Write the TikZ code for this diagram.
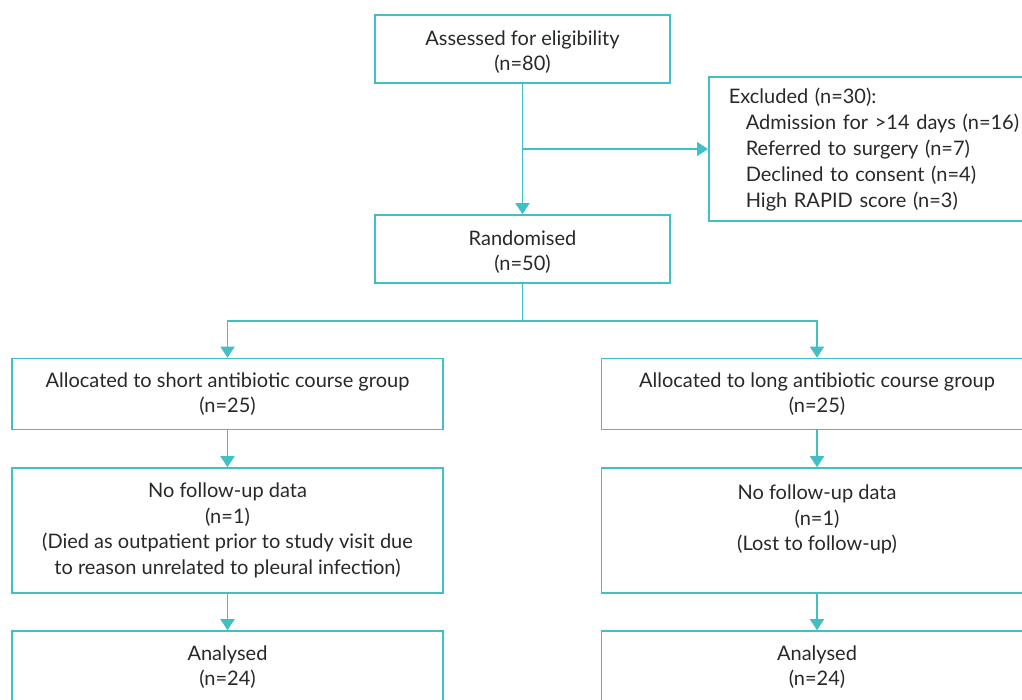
\documentclass[tikz,border=0pt]{standalone}
\usepackage{fontspec}
\setmainfont{Lato}
\usetikzlibrary{arrows.meta}
\definecolor{tealline}{RGB}{64,191,196}
\definecolor{txtcol}{RGB}{40,40,40}
\newcommand{\lowstrut}{\rule{0pt}{21pt}}
\newcommand{\tightspace}{\spaceskip=0.22em plus 0.1em minus 0.05em\relax}
\begin{document}
\begin{tikzpicture}[x=1pt,y=-1pt,
  box/.style={draw=tealline, line width=1.6pt, text=txtcol, align=center, inner sep=0pt,
    font=\fontsize{20pt}{25.5pt}\selectfont},
  conn/.style={draw=tealline, line width=1.6pt},
  arr/.style={conn, -{Triangle[width=14pt,length=11pt]}}]
\clip (0,0) rectangle (1022,699);
\node[box, minimum width=295pt, minimum height=68pt] (assess) at (522.5,49) {\lowstrut Assessed for eligibility\\(n=80)};
\node[box, minimum width=295pt, minimum height=68pt] (rand) at (522.5,249) {\lowstrut Randomised\\(n=50)};
\node[box, text width=330pt, align=left, inner xsep=20pt, minimum height=144pt, anchor=west,
  font=\fontsize{20pt}{25.9pt}\selectfont\tightspace] (excl) at (708,149)
  {\rule{0pt}{17pt}Excluded (n=30):\\
   \hspace*{17pt}Admission for >14 days (n=16)\\
   \hspace*{17pt}Referred to surgery (n=7)\\
   \hspace*{17pt}Declined to consent (n=4)\\
   \hspace*{17pt}High RAPID score (n=3)};
\node[box, minimum width=431pt, minimum height=71pt] (allocA) at (227.5,394) {Allocated to short antibiotic course group\\(n=25)};
\node[box, minimum width=431pt, minimum height=71pt] (allocB) at (817,394) {Allocated to long antibiotic course group\\(n=25)};
\node[box, minimum width=431pt, minimum height=125pt] (nfA) at (227.5,530.5) {No follow-up data\\(n=1)\\(Died as outpatient prior to study visit due\\to reason unrelated to pleural infection)};
\node[box, minimum width=431pt, minimum height=125pt] (nfB) at (817,530.5) {No follow-up data\\(n=1)\\(Lost to follow-up)\\\mbox{}};
\node[box, minimum width=431pt, minimum height=72pt] (anA) at (227.5,667) {Analysed\\(n=24)};
\node[box, minimum width=431pt, minimum height=72pt] (anB) at (817,667) {Analysed\\(n=24)};
\coordinate (branch) at (assess.south |- excl.west);
\coordinate (split) at (522.5,320.7);
\draw[arr] (assess.south) -- (rand.north);
\draw[arr] (branch) -- (excl.west);
\draw[conn] (rand.south) -- (split);
\draw[arr] (split) -| (allocA.north);
\draw[arr] (split) -| (allocB.north);
\draw[arr] (allocA.south) -- (nfA.north);
\draw[arr] (allocB.south) -- (nfB.north);
\draw[arr] (nfA.south) -- (anA.north);
\draw[arr] (nfB.south) -- (anB.north);
\end{tikzpicture}
\end{document}
